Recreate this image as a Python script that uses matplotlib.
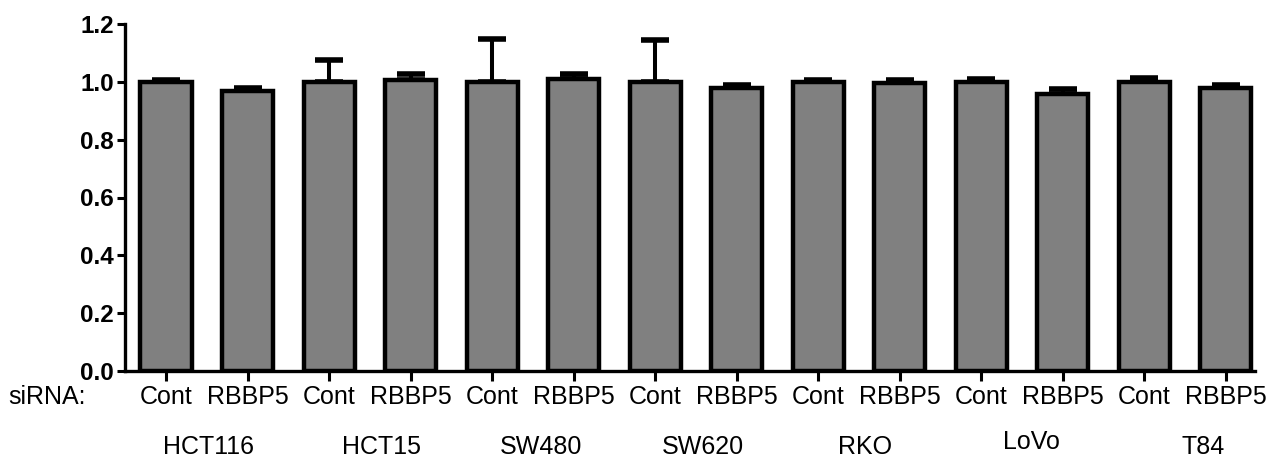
import matplotlib
matplotlib.use("Agg")
import matplotlib.pyplot as plt
import numpy as np

# ---- data ----
cell_lines = ["HCT116", "HCT15", "SW480", "SW620", "RKO", "LoVo", "T84"]
sirna = ["Cont", "RBBP5"]
cont_values = [1.0, 1.0, 1.0, 1.0, 1.0, 1.0, 1.0]
cont_errors = [0.007, 0.075, 0.149, 0.145, 0.008, 0.010, 0.013]
rbbp5_values = [0.970, 1.006, 1.010, 0.977, 0.997, 0.958, 0.978]
rbbp5_errors = [0.010, 0.022, 0.017, 0.013, 0.010, 0.017, 0.012]
yticks = [0.0, 0.2, 0.4, 0.6, 0.8, 1.0, 1.2]

plt.rcParams['font.family'] = ['Liberation Sans', 'DejaVu Sans']

values, errors, labels = [], [], []
for c, r, ce, re in zip(cont_values, rbbp5_values, cont_errors, rbbp5_errors):
    values += [c, r]
    errors += [ce, re]
    labels += sirna
x = np.arange(len(values))

fig = plt.figure(figsize=(12.73, 4.58), dpi=100)
ax = fig.add_axes([125/1273, 1 - 371/458, (1255 - 125)/1273, (371 - 24)/458])

ax.errorbar(x, values, yerr=[np.zeros(len(errors)), errors], fmt='none',
            ecolor='black', elinewidth=2.9, capsize=10.4, capthick=4.0, zorder=1)
ax.bar(x, values, width=0.626, color='#808080', edgecolor='black',
       linewidth=3.2, zorder=2)

ax.set_ylim(0, 1.2)
ax.set_xlim(-0.503, 13.36)
ax.set_yticks(yticks)
ax.set_yticklabels([f"{v:.1f}" for v in yticks], fontsize=17.5, fontweight='bold')
ax.set_xticks(x)
ax.set_xticklabels(labels, fontsize=18)

for side in ['top', 'right']:
    ax.spines[side].set_visible(False)
for side in ['left', 'bottom']:
    ax.spines[side].set_linewidth(2.4)
ax.tick_params(axis='y', length=6, width=2.2, pad=2)
ax.tick_params(axis='x', length=7, width=2.2, pad=3)

# group labels
offsets = [0.02, 0.14, 0.10, 0.09, 0.08, 0.12, 0.22]
yoff = [0, 0, 0, 0, 0, 5, 0]
for i, name in enumerate(cell_lines):
    xc = 2 * i + 0.5 + offsets[i]
    ax.annotate(name, xy=(xc, 0), xycoords=('data', 'axes fraction'),
                xytext=(0, -(447 - 371) + yoff[i]), textcoords='offset pixels',
                ha='center', va='center', fontsize=18)

fig.text(8/1273, 1 - 397/458, "siRNA:", ha='left', va='center', fontsize=18)

fig.savefig("out.png", dpi=100)
